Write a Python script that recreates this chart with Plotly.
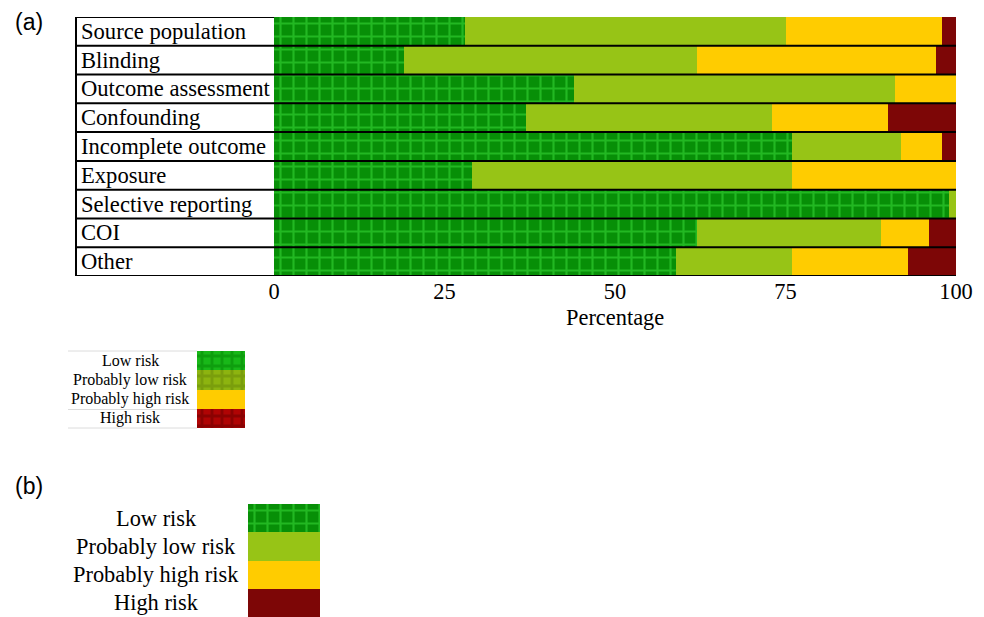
import plotly.graph_objects as go

# Risk-of-bias domains (top to bottom) and the percentage in each judgement
domains = ["Source population", "Blinding", "Outcome assessment", "Confounding",
           "Incomplete outcome", "Exposure", "Selective reporting", "COI", "Other"]
low_risk = [28, 19, 44, 37, 76, 29, 99, 62, 59]
prob_low_risk = [47, 43, 47, 36, 16, 47, 1, 27, 17]
prob_high_risk = [23, 35, 9, 17, 6, 24, 0, 7, 17]
high_risk = [2, 3, 0, 10, 2, 0, 0, 4, 7]

levels = ["Low risk", "Probably low risk", "Probably high risk", "High risk"]
x_ticks = [0, 25, 50, 75, 100]

W, H = 984, 617
SERIF = "Liberation Serif, Times New Roman, serif"
SANS = "Liberation Sans, Arial, sans-serif"


def px(x):
    return x / W


def py(y):
    return 1 - y / H


# colours and fills for each judgement in the main chart / large key
main_fill = {
    "Low risk": dict(color="#078f07", pattern=dict(shape="+", size=13, solidity=0.3,
                                                    fgcolor="#22b822", bgcolor="#078f07",
                                                    fillmode="replace")),
    "Probably low risk": dict(color="#97c416"),
    "Probably high risk": dict(color="#ffcc00"),
    "High risk": dict(color="#7d0606"),
}
# the small key uses textured swatches
small_fill = {
    "Low risk": dict(color="#18b818", pattern=dict(shape="+", size=10, solidity=0.5,
                                                    fgcolor="#0e9e0e", bgcolor="#18b818",
                                                    fillmode="replace")),
    "Probably low risk": dict(color="#8db40f", pattern=dict(shape="+", size=10, solidity=0.5,
                                                             fgcolor="#7a9e0c", bgcolor="#8db40f",
                                                             fillmode="replace")),
    "Probably high risk": dict(color="#ffcc00"),
    "High risk": dict(color="#b00404", pattern=dict(shape="+", size=10, solidity=0.5,
                                                     fgcolor="#8a0202", bgcolor="#b00404",
                                                     fillmode="replace")),
}

fig = go.Figure()

series = [low_risk, prob_low_risk, prob_high_risk, high_risk]
for name, vals in zip(levels, series):
    fig.add_trace(go.Bar(
        x=vals, y=domains, orientation="h", name=name,
        marker=dict(line=dict(width=0), **main_fill[name]),
        showlegend=False, xaxis="x", yaxis="y",
    ))

# small key, panel (a)
for name in levels:
    fig.add_trace(go.Bar(
        x=[1], y=[name], orientation="h", name=name,
        marker=dict(line=dict(width=0), **small_fill[name]),
        showlegend=False, xaxis="x2", yaxis="y2",
    ))

# large key, panel (b)
for name in levels:
    fig.add_trace(go.Bar(
        x=[1], y=[name], orientation="h", name=name,
        marker=dict(line=dict(width=0), **main_fill[name]),
        showlegend=False, xaxis="x3", yaxis="y3",
    ))

shapes = []
annotations = []

# domain label column: text, row separators and border
n = len(domains)
for i in range(n + 1):
    x0 = px(76)
    x1 = px(274) if i == 0 else px(956)
    shapes.append(dict(type="line", xref="paper", yref="y", x0=x0, x1=x1,
                       y0=i - 0.5, y1=i - 0.5, line=dict(color="black", width=2),
                       layer="above"))
shapes.append(dict(type="line", xref="paper", yref="y", x0=px(76), x1=px(76),
                   y0=-0.5, y1=n - 0.5, line=dict(color="black", width=2), layer="above"))

for d in domains:
    annotations.append(dict(text=d, xref="paper", yref="y", x=px(79), y=d,
                            xanchor="left", yanchor="middle", showarrow=False,
                            font=dict(family=SERIF, size=22.6, color="black")))

annotations.append(dict(text="Percentage", xref="x", yref="paper", x=50, y=py(318),
                        xanchor="center", yanchor="middle", showarrow=False,
                        font=dict(family=SERIF, size=22.4, color="black")))

# panel letters
for letter, yy in [("(a)", 22), ("(b)", 486)]:
    annotations.append(dict(text=letter, xref="paper", yref="paper", x=px(13), y=py(yy),
                            xanchor="left", yanchor="middle", showarrow=False,
                            font=dict(family=SANS, size=23, color="black")))

# small key labels and faint rules
for name in levels:
    annotations.append(dict(text=name, xref="paper", yref="y2", x=px(130), y=name,
                            xanchor="center", yanchor="middle", showarrow=False,
                            font=dict(family=SERIF, size=16, color="black")))
for yy in [351, 409.5, 428]:
    shapes.append(dict(type="line", xref="paper", yref="paper", x0=px(68), x1=px(197),
                       y0=py(yy), y1=py(yy), line=dict(color="#dcdcdc", width=1)))

# large key labels
for name in levels:
    annotations.append(dict(text=name, xref="paper", yref="y3", x=px(156), y=name,
                            xanchor="center", yanchor="middle", showarrow=False,
                            font=dict(family=SERIF, size=22.4, color="black")))

hidden = dict(showgrid=False, zeroline=False, showline=False, showticklabels=False,
              ticks="", fixedrange=True, automargin=False)

fig.update_layout(
    width=W, height=H,
    margin=dict(l=0, r=0, t=0, b=0, autoexpand=False),
    paper_bgcolor="white", plot_bgcolor="rgba(0,0,0,0)",
    barmode="stack", bargap=0,
    xaxis=dict(domain=[px(274), px(956)], range=[0, 100], tickvals=x_ticks,
               ticktext=[str(t) for t in x_ticks], showgrid=False, zeroline=False,
               showline=False, ticks="", tickfont=dict(family=SERIF, size=22.4, color="black"),
               anchor="y", automargin=False),
    yaxis=dict(domain=[py(276), py(17)], type="category", categoryarray=domains,
               range=[n - 0.5, -0.5], anchor="x", **hidden),
    xaxis2=dict(domain=[px(197), px(245)], range=[0, 1], anchor="y2", **hidden),
    yaxis2=dict(domain=[py(428), py(351)], type="category", categoryarray=levels,
                range=[3.5, -0.5], anchor="x2", **hidden),
    xaxis3=dict(domain=[px(248), px(320)], range=[0, 1], anchor="y3", **hidden),
    yaxis3=dict(domain=[py(617), py(504)], type="category", categoryarray=levels,
                range=[3.5, -0.5], anchor="x3", **hidden),
    shapes=shapes,
    annotations=annotations,
)

fig.write_html("out.html")
